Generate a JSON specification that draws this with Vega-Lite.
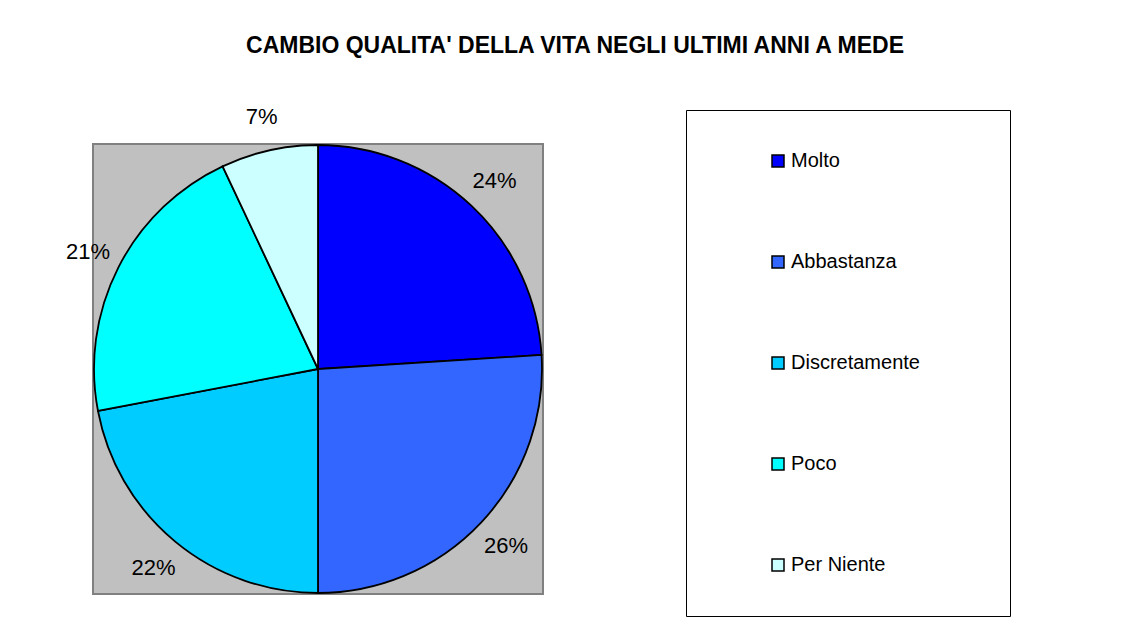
{
  "$schema": "https://vega.github.io/schema/vega-lite/v6.json",
  "width": 450,
  "height": 450,
  "autosize": {"type": "none"},
  "padding": {"left": 93, "top": 144, "right": 580, "bottom": 32},
  "background": "white",
  "view": {"fill": "#C0C0C0", "stroke": "#808080", "strokeWidth": 2},
  "title": {
    "text": "CAMBIO QUALITA' DELLA VITA NEGLI ULTIMI ANNI A MEDE",
    "font": "Liberation Sans",
    "fontSize": 23,
    "fontWeight": "bold",
    "color": "black",
    "anchor": "middle",
    "frame": "group",
    "dx": 257,
    "offset": 48
  },
  "data": {
    "values": [
      {"cat": "Molto", "v": 24, "o": 1, "label": "24%"},
      {"cat": "Abbastanza", "v": 26, "o": 2, "label": "26%"},
      {"cat": "Discretamente", "v": 22, "o": 3, "label": "22%"},
      {"cat": "Poco", "v": 21, "o": 4, "label": "21%"},
      {"cat": "Per Niente", "v": 7, "o": 5, "label": "7%"}
    ]
  },
  "encoding": {
    "theta": {"field": "v", "type": "quantitative", "stack": true},
    "order": {"field": "o", "type": "quantitative"}
  },
  "layer": [
    {
      "mark": {"type": "arc", "outerRadius": 224, "stroke": "black", "strokeWidth": 1.8},
      "encoding": {
        "color": {
          "field": "cat",
          "type": "nominal",
          "scale": {
            "domain": ["Molto", "Abbastanza", "Discretamente", "Poco", "Per Niente"],
            "range": ["#0000FF", "#3366FF", "#00CCFF", "#00FFFF", "#CCFFFF"]
          },
          "legend": {
            "orient": "none",
            "legendX": 593,
            "legendY": -34,
            "title": " ",
            "titleOrient": "right",
            "titlePadding": 49,
            "titleFontSize": 4,
            "strokeColor": "black",
            "fillColor": "white",
            "padding": 41,
            "rowPadding": 81,
            "symbolType": "square",
            "symbolSize": 144,
            "symbolStrokeColor": "black",
            "symbolStrokeWidth": 1.5,
            "symbolOffset": 41,
            "labelFont": "Liberation Sans",
            "labelFontSize": 20,
            "labelColor": "black",
            "labelOffset": 3,
            "labelLimit": 400
          }
        }
      }
    },
    {
      "mark": {"type": "text", "radius": 258, "font": "Liberation Sans", "fontSize": 22, "color": "black"},
      "encoding": {"text": {"field": "label", "type": "nominal"}}
    }
  ]
}
